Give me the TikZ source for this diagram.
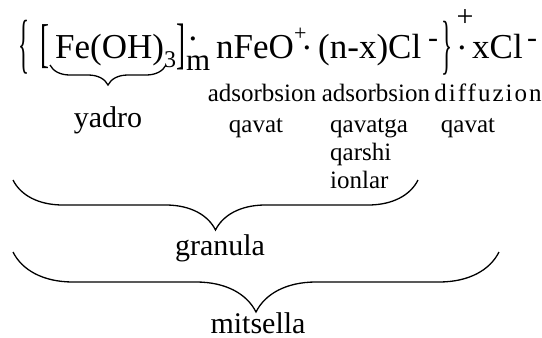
\documentclass[tikz,border=0pt]{standalone}
\usepackage{fontspec}
\usepackage{graphicx}
\setmainfont{Liberation Serif}
\newfontfamily\spacedfont[LetterSpace=8]{Liberation Serif}
\usetikzlibrary{decorations.pathreplacing}

\begin{document}
\begin{tikzpicture}[x=1pt,y=-1pt,
    formula/.style={inner sep=0pt,anchor=base west,font=\fontsize{35}{35}\selectfont},
    index/.style={inner sep=0pt,anchor=base west,font=\fontsize{24}{24}\selectfont},
    label/.style={inner sep=0pt,anchor=base,font=\fontsize{30}{30}\selectfont},
    sublabel/.style={inner sep=0pt,anchor=base,font=\fontsize{25}{29}\selectfont},
    curly/.style={decorate,decoration={brace,mirror,amplitude=#1},line width=1.3pt}]

  \useasboundingbox (0,0) rectangle (542,338);

  \def\By{58};   % zakladni radek vzorce

  % vnejsi zavorky a jadro
  \node[inner sep=0pt] (lbrace) at (24,47) {\resizebox*{11pt}{54pt}{\{}};
  \node[inner sep=0pt] (lbrack) at (45,46.5) {\resizebox*{9pt}{44pt}{[}};
  \node[formula] (fe) at (55,\By) {Fe(OH)};
  \node[index] (three) at (164,\By+9) {3};
  \node[inner sep=0pt] (rbrack) at (181,47) {\resizebox*{9pt}{46pt}{]}};
  \node[index,font=\fontsize{31}{31}\selectfont] (m) at (186,\By+12) {m};
  \node[inner sep=0pt,font=\fontsize{35}{35}\selectfont] (mdot) at (193,44) {·};

  % adsorbsion qavat
  \node[formula] (nfeo) at (216,\By) {nFeO};
  \node[index,font=\fontsize{22}{22}\selectfont] (plusa) at (294,\By-18) {+};
  \node[inner sep=0pt,font=\fontsize{35}{35}\selectfont] (dota) at (307,53) {·};
  \node[formula] (nx) at (318,\By) {(n-x)Cl};
  \node[inner sep=0pt,font=\fontsize{30}{30}\selectfont] (minusa) at (433,43) {-};
  \node[inner sep=0pt] (rbrace) at (447,48) {\resizebox*{11pt}{54pt}{\}}};
  \node[inner sep=0pt,font=\fontsize{30}{30}\selectfont] (plusb) at (465,18) {+};

  % diffuzion qavat
  \node[inner sep=0pt,font=\fontsize{35}{35}\selectfont] (dotb) at (462,53) {·};
  \node[formula] (xcl) at (472,\By) {xCl};
  \node[inner sep=0pt,font=\fontsize{30}{30}\selectfont] (minusb) at (532,43) {-};

  % popisky
  \node[sublabel] (ads1) at (262,101) {adsorbsion};
  \node[sublabel] (qav1) at (256,132) {qavat};
  \node[sublabel] (ads2) at (376,101) {adsorbsion};
  \node[sublabel,anchor=base west] (qav2) at (330,132) {qavatga};
  \node[sublabel,anchor=base west] (qar) at (330,160) {qarshi};
  \node[sublabel,anchor=base west] (ion) at (330,188) {ionlar};
  \node[sublabel] (dif) at (488,101) {\spacedfont diffuzion};
  \node[sublabel] (qav3) at (468,132) {qavat};

  % slozene zavorky
  \coordinate (ya) at (50,65);
  \coordinate (yb) at (166,65);
  \draw[curly=20] (ya)--(yb);
  \node[label] (yadro) at (108,127) {yadro};

  \coordinate (ga) at (13,180);
  \coordinate (gb) at (418,180);
  \draw[curly=50] (ga)--(gb);
  \node[label] (granula) at (220,255) {granula};

  \coordinate (ma) at (13,252);
  \coordinate (mb) at (499,252);
  \draw[curly=60] (ma)--(mb);
  \node[label] (mitsella) at (258,333) {mitsella};

\end{tikzpicture}
\end{document}
